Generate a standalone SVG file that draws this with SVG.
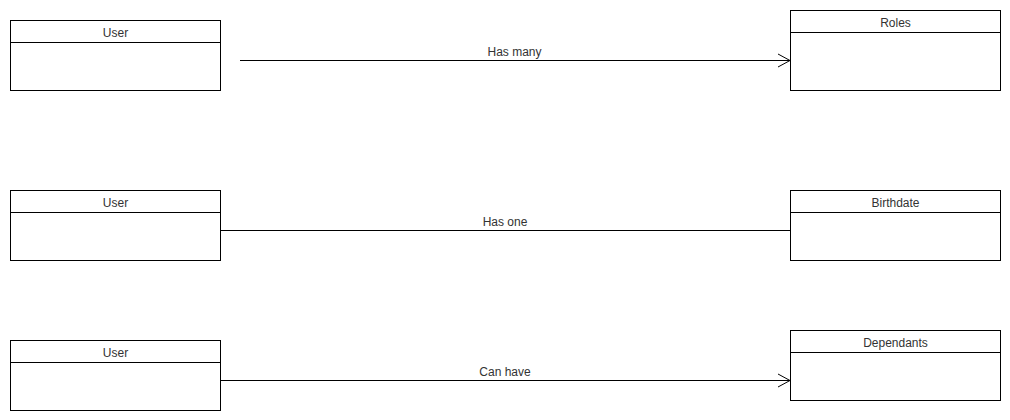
<svg xmlns="http://www.w3.org/2000/svg" width="1010" height="420" viewBox="0 0 1010 420">
<style>
.box{fill:#fff;stroke:#000;stroke-width:1}
.hdr{stroke:#000;stroke-width:1;fill:none}
.t{font-family:"Liberation Sans",Arial,sans-serif;font-size:12px;fill:#333;text-anchor:middle}
.edge{stroke:#000;stroke-width:1;fill:none}
</style>
<defs>
<marker id="open" markerUnits="userSpaceOnUse" markerWidth="16" markerHeight="16" refX="12" refY="7" orient="auto" viewBox="0 0 16 16" overflow="visible">
<path d="M0,0.5 L12,7 L0,13.5" fill="none" stroke="#000" stroke-width="1"/>
</marker>
</defs>
<rect width="1010" height="420" fill="#fff"/>
<g id="user1"><rect class="box" x="10.5" y="20.5" width="210" height="70"/><line class="hdr" x1="10.5" y1="42.5" x2="220.5" y2="42.5"/><text class="t" x="115.5" y="37">User</text></g>
<g id="roles"><rect class="box" x="790.5" y="10.5" width="210" height="80"/><line class="hdr" x1="790.5" y1="32.5" x2="1000.5" y2="32.5"/><text class="t" x="895.5" y="27">Roles</text></g>
<g id="user2"><rect class="box" x="10.5" y="190.5" width="210" height="70"/><line class="hdr" x1="10.5" y1="212.5" x2="220.5" y2="212.5"/><text class="t" x="115.5" y="207">User</text></g>
<g id="birthdate"><rect class="box" x="790.5" y="190.5" width="210" height="70"/><line class="hdr" x1="790.5" y1="212.5" x2="1000.5" y2="212.5"/><text class="t" x="895.5" y="207">Birthdate</text></g>
<g id="user3"><rect class="box" x="10.5" y="340.5" width="210" height="70"/><line class="hdr" x1="10.5" y1="362.5" x2="220.5" y2="362.5"/><text class="t" x="115.5" y="357">User</text></g>
<g id="dependants"><rect class="box" x="790.5" y="330.5" width="210" height="70"/><line class="hdr" x1="790.5" y1="352.5" x2="1000.5" y2="352.5"/><text class="t" x="895.5" y="347">Dependants</text></g>
<g id="connectors">
<line class="edge" x1="240" y1="60.5" x2="790" y2="60.5" marker-end="url(#open)"/>
<text class="t" x="514.5" y="56">Has many</text>
<line class="edge" x1="220.5" y1="230.5" x2="790" y2="230.5"/>
<text class="t" x="505" y="226">Has one</text>
<line class="edge" x1="220.5" y1="380.5" x2="790" y2="380.5" marker-end="url(#open)"/>
<text class="t" x="505" y="376">Can have</text>
</g>
</svg>
